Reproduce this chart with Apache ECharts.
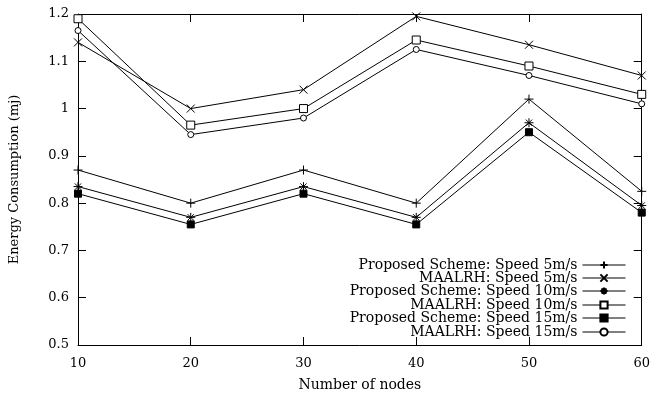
<!DOCTYPE html>
<html>
<head>
<meta charset="utf-8">
<script src="https://cdn.jsdelivr.net/npm/echarts@6/dist/echarts.min.js"></script>
<style>html,body{margin:0;padding:0;background:#fff;}#c{width:653px;height:397px;}</style>
</head>
<body>
<div id="c"></div>
<script>
var nodes = [10, 20, 30, 40, 50, 60];
var proposed5 = [0.87, 0.80, 0.87, 0.80, 1.02, 0.825];
var maalrh5 = [1.14, 1.00, 1.04, 1.195, 1.135, 1.07];
var proposed10 = [0.835, 0.77, 0.835, 0.77, 0.97, 0.795];
var maalrh10 = [1.19, 0.965, 1.0, 1.145, 1.09, 1.03];
var proposed15 = [0.82, 0.755, 0.82, 0.755, 0.95, 0.78];
var maalrh15 = [1.165, 0.945, 0.98, 1.125, 1.07, 1.01];
var seriesNames = [
  'Proposed Scheme: Speed 5m/s',
  'MAALRH: Speed 5m/s',
  'Proposed Scheme: Speed 10m/s',
  'MAALRH: Speed 10m/s',
  'Proposed Scheme: Speed 15m/s',
  'MAALRH: Speed 15m/s'
];
var seriesValues = [proposed5, maalrh5, proposed10, maalrh10, proposed15, maalrh15];

var FONT = 'DejaVu Serif';
var symPlus = 'path://M0,5L10,5M5,0L5,10';
var symCross = 'path://M0,0L10,10M10,0L0,10';
var symStar = 'path://M0,5L10,5M5,0L5,10M1.5,1.5L8.5,8.5M8.5,1.5L1.5,8.5';
var symbols = [symPlus, symCross, symStar, 'rect', 'rect', 'circle'];
var sizes = [9, 8, 9, 8, 7, 6];
var filled = [false, false, false, false, true, false];

function pairs(vals) {
  return nodes.map(function (n, i) { return [n, vals[i]]; });
}

var series = seriesNames.map(function (name, i) {
  return {
    name: name,
    type: 'line',
    xAxisIndex: 0,
    yAxisIndex: 0,
    data: pairs(seriesValues[i]),
    symbol: symbols[i],
    symbolSize: sizes[i],
    showAllSymbol: true,
    clip: false,
    lineStyle: { color: '#000', width: 1 },
    itemStyle: {
      color: filled[i] ? '#000' : (i < 3 ? 'none' : '#fff'),
      borderColor: '#000',
      borderWidth: 1
    },
    emphasis: { disabled: true },
    animation: false
  };
});

var rowCenters = [265, 278, 291, 305, 318, 332];
var legends = seriesNames.map(function (name, i) {
  return {
    data: [name],
    orient: 'vertical',
    right: 27,
    top: rowCenters[i] - 7,
    align: 'right',
    itemWidth: 43,
    itemHeight: 9,
    padding: 0,
    itemGap: 0,
    selectedMode: false,
    lineStyle: { width: 1, color: '#000' },
    textStyle: { fontFamily: FONT, fontSize: 14, lineHeight: 14, color: '#000' }
  };
});

var axisCommon = {
  type: 'value',
  axisLine: { show: true, lineStyle: { color: '#000', width: 1 } },
  axisTick: { show: true, inside: true, length: 8, lineStyle: { color: '#000' } },
  splitLine: { show: false }
};

var option = {
  backgroundColor: '#fff',
  animation: false,
  grid: { left: 73, right: 10, top: 14, bottom: 48, containLabel: false },
  legend: legends,
  xAxis: [
    Object.assign({}, axisCommon, {
      position: 'bottom', min: 10, max: 60, interval: 10,
      name: 'Number of nodes', nameLocation: 'middle', nameGap: 33,
      nameTextStyle: { fontFamily: FONT, fontSize: 14, color: '#000' },
      axisLabel: { fontFamily: FONT, fontSize: 13, color: '#000', margin: 12 }
    }),
    Object.assign({}, axisCommon, {
      position: 'top', min: 10, max: 60, interval: 10,
      axisLabel: { show: false }
    })
  ],
  yAxis: [
    Object.assign({}, axisCommon, {
      position: 'left', min: 0.5, max: 1.2, interval: 0.1,
      name: 'Energy Consumption (mj)', nameLocation: 'middle', nameGap: 57,
      nameTextStyle: { fontFamily: FONT, fontSize: 13, color: '#000' },
      axisLabel: { fontFamily: FONT, fontSize: 13, color: '#000', margin: 9 }
    }),
    Object.assign({}, axisCommon, {
      position: 'right', min: 0.5, max: 1.2, interval: 0.1,
      axisLabel: { show: false }
    })
  ],
  series: series
};

var chart = echarts.init(document.getElementById('c'), null, { renderer: 'canvas' });
chart.setOption(option);
</script>
</body>
</html>
